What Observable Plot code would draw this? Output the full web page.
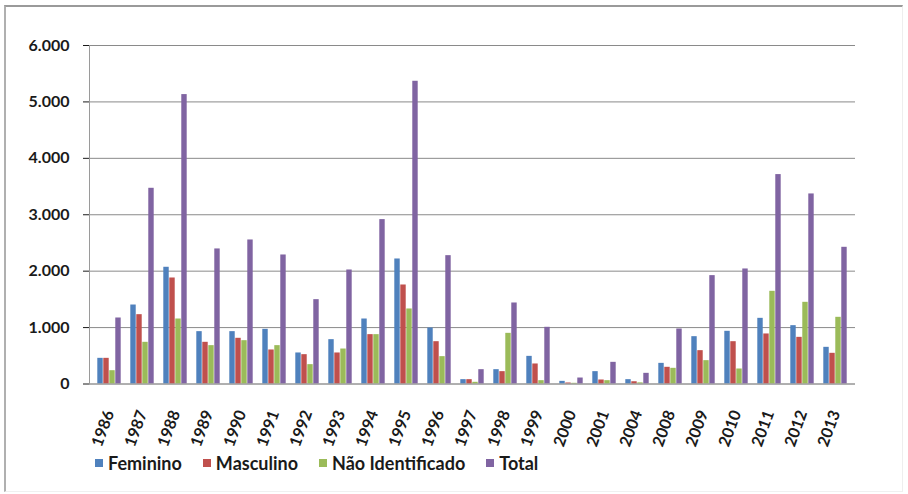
<!DOCTYPE html>
<html>
<head>
<meta charset="utf-8">
<script src="https://cdn.jsdelivr.net/npm/d3@7"></script>
<script src="https://cdn.jsdelivr.net/npm/@observablehq/plot@0.6"></script>
<style>
  html, body { margin: 0; padding: 0; background: #fff; }
  #wrap { position: relative; width: 908px; height: 494px; overflow: hidden; font-family: Lato, "Open Sans", sans-serif; }
  #frame { position: absolute; left: 4px; top: 5px; width: 896px; height: 484px; border-top: 2px solid #9a9a9a; border-left: 2px solid #b0b0b0; border-right: 1px solid #eeeeee; border-bottom: 1px solid #f0f0f0; pointer-events: none; }
  #chart { position: absolute; left: 0; top: 0; }
  #legend { position: absolute; left: 95px; top: 452px; display: flex; align-items: center; font-size: 18px; font-weight: 700; color: #1a1a1a; }
  .item { display: flex; align-items: center; margin-right: 21px; }
  .sw { width: 8px; height: 8px; margin-right: 5px; }
</style>
</head>
<body>
<div id="wrap">
  <div id="frame"></div>
  <div id="chart"></div>
  <div id="legend"></div>
</div>
<script>
const years = ["1986","1987","1988","1989","1990","1991","1992","1993","1994","1995","1996","1997","1998","1999","2000","2001","2004","2008","2009","2010","2011","2012","2013"];
const feminino = [455,1400,2069,928,928,969,550,786,1152,2216,993,77,254,490,47,219,77,366,839,934,1164,1034,650];
const masculino = [455,1229,1879,739,810,603,520,550,875,1755,750,77,219,355,18,71,40,296,591,750,887,827,544];
const naoIdentificado = [236,739,1152,680,768,680,343,620,875,1330,485,30,898,59,12,59,20,278,414,266,1643,1448,1182];
const total = [1170,3469,5130,2394,2553,2287,1495,2021,2914,5366,2275,254,1436,1005,106,384,189,975,1921,2039,3712,3369,2423];
const seriesNames = ["Feminino","Masculino","Não Identificado","Total"];
const seriesColors = ["#4F81BD","#C0504D","#9BBB59","#8064A2"];
const yTicks = [0,1000,2000,3000,4000,5000,6000];

const seriesValues = [feminino, masculino, naoIdentificado, total];
const fmt = d => d3.format(",")(d).replace(/,/g, ".");

const W = 908, mL = 89, mR = 53;
const step = (W - mL - mR) / (years.length - 0.28 + 0.28);
const bw = step * (1 - 0.28);
const barW = bw / seriesNames.length;

const barMarks = seriesNames.map((s, j) =>
  Plot.barY(years.map((y, i) => ({year: y, series: s, value: seriesValues[j][i]})), {
    x: "year", y: "value", fill: seriesColors[j],
    insetLeft: barW * j + 0.3, insetRight: barW * (seriesNames.length - 1 - j) + 0.3
  })
);

const chart = Plot.plot({
  width: W,
  height: 452,
  marginLeft: mL,
  marginRight: mR,
  marginTop: 45,
  marginBottom: 68.5,
  style: {fontFamily: "Lato, 'Open Sans', sans-serif", fontSize: "16px", fontWeight: "700", color: "#1a1a1a", background: "transparent"},
  x: {domain: years, paddingInner: 0.28, paddingOuter: 0.14, label: null, tickRotate: -70, tickSize: 0, tickPadding: 27},
  y: {domain: [0, 6000], ticks: yTicks, tickFormat: fmt, label: null, tickSize: 6, tickPadding: 14},
  marks: [
    Plot.gridY(yTicks, {stroke: "#8a8a8a", strokeOpacity: 1, strokeWidth: 1}),
    ...barMarks,
    Plot.ruleY([0], {stroke: "#9a9a9a"}),
    Plot.frame({anchor: "left", stroke: "#9a9a9a"})
  ]
});
document.getElementById("chart").appendChild(chart);

const legend = document.getElementById("legend");
seriesNames.forEach((s, j) => {
  const it = document.createElement("div");
  it.className = "item";
  const sw = document.createElement("div");
  sw.className = "sw";
  sw.style.background = seriesColors[j];
  const t = document.createElement("span");
  t.textContent = s;
  it.appendChild(sw); it.appendChild(t);
  legend.appendChild(it);
});
</script>
</body>
</html>
